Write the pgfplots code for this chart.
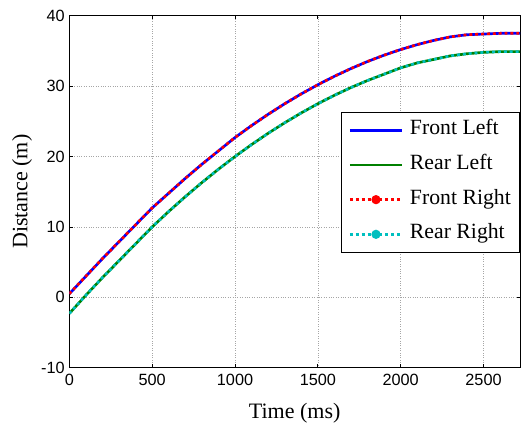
\documentclass[border=0pt]{standalone}
\usepackage{fontspec}
\setmainfont{Liberation Serif}
\newfontfamily\arialfont{Liberation Sans}
\usepackage{pgfplots}
\usepackage{pgfplotstable}
\pgfplotsset{compat=1.18}

% Distance travelled by each wheel (t in ms, d in m)
\pgfplotstableread{
t d
0 0.5
100 3.0
200 5.5
300 7.9
400 10.3
500 12.7
600 14.8
700 16.9
800 18.9
900 20.8
1000 22.7
1100 24.4
1200 26.0
1300 27.5
1400 28.9
1500 30.2
1600 31.4
1700 32.5
1800 33.5
1900 34.4
2000 35.2
2100 35.9
2200 36.5
2300 37.0
2400 37.3
2500 37.4
2600 37.5
2720 37.5
}\frontleft
\pgfplotstableread{
t d
0 -2.3
100 0.3
200 2.8
300 5.2
400 7.6
500 10.0
600 12.2
700 14.3
800 16.3
900 18.2
1000 20.0
1100 21.7
1200 23.3
1300 24.8
1400 26.2
1500 27.5
1600 28.7
1700 29.8
1800 30.8
1900 31.7
2000 32.6
2100 33.3
2200 33.8
2300 34.3
2400 34.6
2500 34.8
2600 34.9
2720 34.9
}\rearleft
\pgfplotstableread{
t d
0 0.5
100 3.0
200 5.5
300 7.9
400 10.3
500 12.7
600 14.8
700 16.9
800 18.9
900 20.8
1000 22.7
1100 24.4
1200 26.0
1300 27.5
1400 28.9
1500 30.2
1600 31.4
1700 32.5
1800 33.5
1900 34.4
2000 35.2
2100 35.9
2200 36.5
2300 37.0
2400 37.3
2500 37.4
2600 37.5
2720 37.5
}\frontright
\pgfplotstableread{
t d
0 -2.3
100 0.3
200 2.8
300 5.2
400 7.6
500 10.0
600 12.2
700 14.3
800 16.3
900 18.2
1000 20.0
1100 21.7
1200 23.3
1300 24.8
1400 26.2
1500 27.5
1600 28.7
1700 29.8
1800 30.8
1900 31.7
2000 32.6
2100 33.3
2200 33.8
2300 34.3
2400 34.6
2500 34.8
2600 34.9
2720 34.9
}\rearright

\definecolor{mgreen}{rgb}{0,0.5,0}
\definecolor{mcyan}{rgb}{0,0.75,0.75}

\pgfplotsset{
  linelegend/.style={legend image code/.code={\draw[##1] (0pt,0pt) -- (39pt,0pt);}},
  dotlegend/.style={legend image code/.code={\draw[##1] (0pt,0pt) -- (39pt,0pt);
      \fill[#1, solid] (19.5pt,0pt) circle (2.4pt);}},
}

\begin{document}
\begin{tikzpicture}
\useasboundingbox (-52pt,-43pt) rectangle (339.5pt,275.8pt);
\begin{axis}[
  scale only axis,
  width=338pt, height=264pt,
  xmin=0, xmax=2720, ymin=-10, ymax=40,
  xtick={0,500,1000,1500,2000,2500},
  xticklabels={0,500,1000,1500,2000,2500},
  ytick={-10,0,10,20,30,40},
  yticklabels={-10,0,10,20,30,40},
  axis line style={line width=0.75pt},
  tick style={black, line width=0.6pt},
  major tick length=2.5pt,
  grid=major,
  major grid style={gray!70, line width=0.4pt, dash pattern=on 0.6pt off 1.2pt},
  tick label style={font=\arialfont\fontsize{12.2}{14}\selectfont},
  xticklabel style={yshift=-1pt},
  xlabel={Time (ms)},
  ylabel={Distance (m)},
  label style={font=\fontsize{16.5}{19}\selectfont},
  xlabel style={at={(axis description cs:0.5,-0.128)}, anchor=center},
  ylabel style={at={(axis description cs:-0.105,0.5)}, anchor=center},
  legend cell align=left,
  legend style={
    at={(1,0.727)}, anchor=north east,
    draw=black, line width=0.75pt, fill=white,
    font=\fontsize{16.3}{19}\selectfont,
    inner xsep=5.5pt, inner ysep=5pt,
    row sep=9pt,
    nodes={inner sep=1pt, text height=11pt, text depth=4pt},
    /tikz/every odd column/.append style={column sep=4pt},
  },
  linelegend,
]
\addplot[blue, line width=2pt] table[x=t, y=d] {\frontleft};
\addlegendentry{Front Left}
\addplot[mgreen, line width=2pt] table[x=t, y=d] {\rearleft};
\addlegendentry{Rear Left}
\addplot[red, line width=2pt, dash pattern=on 2.2pt off 2.2pt, dotlegend=red]
  table[x=t, y=d] {\frontright};
\addlegendentry{Front Right}
\addplot[mcyan, line width=2pt, dash pattern=on 2.2pt off 2.2pt, dotlegend=mcyan]
  table[x=t, y=d] {\rearright};
\addlegendentry{Rear Right}
\end{axis}
\end{tikzpicture}
\end{document}
